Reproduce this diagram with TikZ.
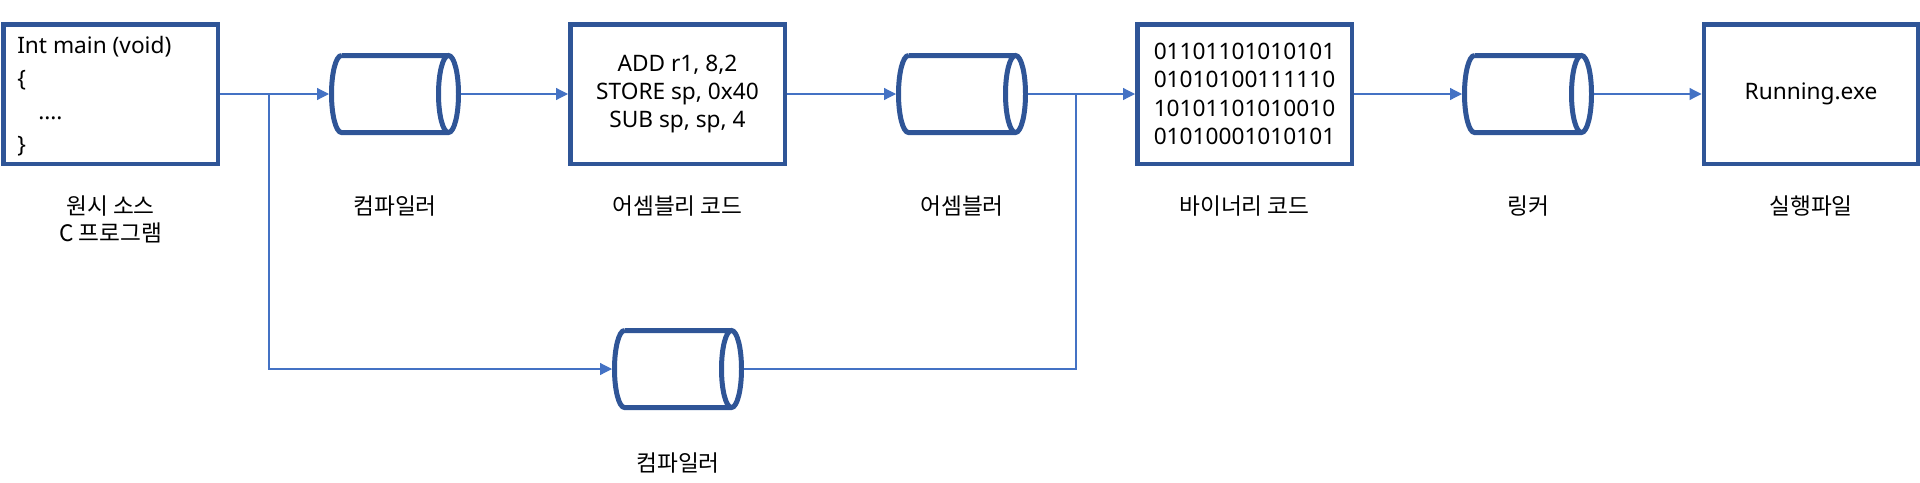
\documentclass[tikz,border=0pt]{standalone}
\usepackage{fontspec}
\setmainfont{Noto Sans}
\newfontfamily\kr{Noto Sans CJK KR}
\usetikzlibrary{arrows.meta}
\definecolor{boxblue}{HTML}{2F5597}
\definecolor{linkblue}{HTML}{4472C4}
\newcommand\drawcyl[1]{%
  \draw[cylline, shift={(#1.center)}]
    (-40.125pt,28.875pt) -- (40.125pt,28.875pt)
    (40.125pt,0pt) ellipse [x radius=7.5pt, y radius=28.875pt]
    (-40.125pt,28.875pt) arc [start angle=90, end angle=270, x radius=7.5pt, y radius=28.875pt]
    -- (40.125pt,-28.875pt);%
}
\begin{document}
\begin{tikzpicture}[x=0.75pt,y=-0.75pt,
  codebox/.style={draw=boxblue, line width=3.375pt, minimum width=160.875pt, minimum height=104.625pt, inner sep=0pt},
  tool/.style={rectangle, minimum width=95.25pt, minimum height=57.75pt, inner sep=0pt, outer sep=1.875pt},
  cylline/.style={draw=boxblue, line width=3.75pt},
  conn/.style={draw=linkblue, line width=0.9pt},
  arr/.style={conn, -{Triangle[length=9pt,width=9pt]}},
  lbl/.style={font=\kr\fontsize{17}{20.25}\selectfont, anchor=base, inner sep=0pt, align=center},
  txt/.style={font=\fontsize{17}{21}\selectfont, inner sep=0pt}
]
\useasboundingbox (0,0) rectangle (1920,482);
% boxes
\node[codebox] (src) at (110.5,94) {};
\node[codebox] (asm) at (677.5,94) {};
\node[codebox] (bin) at (1244.5,94) {};
\node[codebox] (exe) at (1811,94) {};
% cylinders
\node[tool] (comp) at (395,94) {};
\node[tool] (asmr) at (962,94) {};
\node[tool] (link) at (1528,94) {};
\node[tool] (comp2) at (678,369) {};
\drawcyl{comp}
\drawcyl{asmr}
\drawcyl{link}
\drawcyl{comp2}
% texts in boxes
\node[txt, align=left, anchor=base west, font=\fontsize{17}{24.75}\selectfont] (srctext) at (17,152)
  {Int main (void)\\\{\\\hspace*{15.75pt}....\\\}};
\node[txt, align=center] (asmtext) at (677.5,94) {ADD r1, 8,2\\STORE sp, 0x40\\SUB sp, sp, 4};
\node[txt, align=center, font=\fontsize{17}{21.25}\selectfont] (bintext) at (1244.5,94)
  {01101101010101\\01010100111110\\10101101010010\\01010001010101};
\node[txt] (exetext) at (1811,94) {Running.exe};
% labels
\node[lbl] (srclbl) at (110.5,241) {원시 소스\\C 프로그램};
\node[lbl] (complbl) at (395,214) {컴파일러};
\node[lbl] (asmlbl) at (677.5,214) {어셈블리 코드};
\node[lbl] (asmrlbl) at (962,214) {어셈블러};
\node[lbl] (binlbl) at (1244.5,214) {바이너리 코드};
\node[lbl] (linklbl) at (1528,214) {링커};
\node[lbl] (exelbl) at (1811,214) {실행파일};
\node[lbl] (comp2lbl) at (678,471) {컴파일러};
% connectors
\coordinate (split) at (269,94);
\coordinate (join) at (1076,94);
\draw[conn] (src.east) -- (split);
\draw[arr] (split) -- (comp.west);
\draw[arr] (comp.east) -- (asm.west);
\draw[arr] (asm.east) -- (asmr.west);
\draw[conn] (asmr.east) -- (join);
\draw[arr] (join) -- (bin.west);
\draw[arr] (bin.east) -- (link.west);
\draw[arr] (link.east) -- (exe.west);
\draw[arr] (split) |- (comp2.west);
\draw[conn] (comp2.east) -| (join);
\end{tikzpicture}
\end{document}
